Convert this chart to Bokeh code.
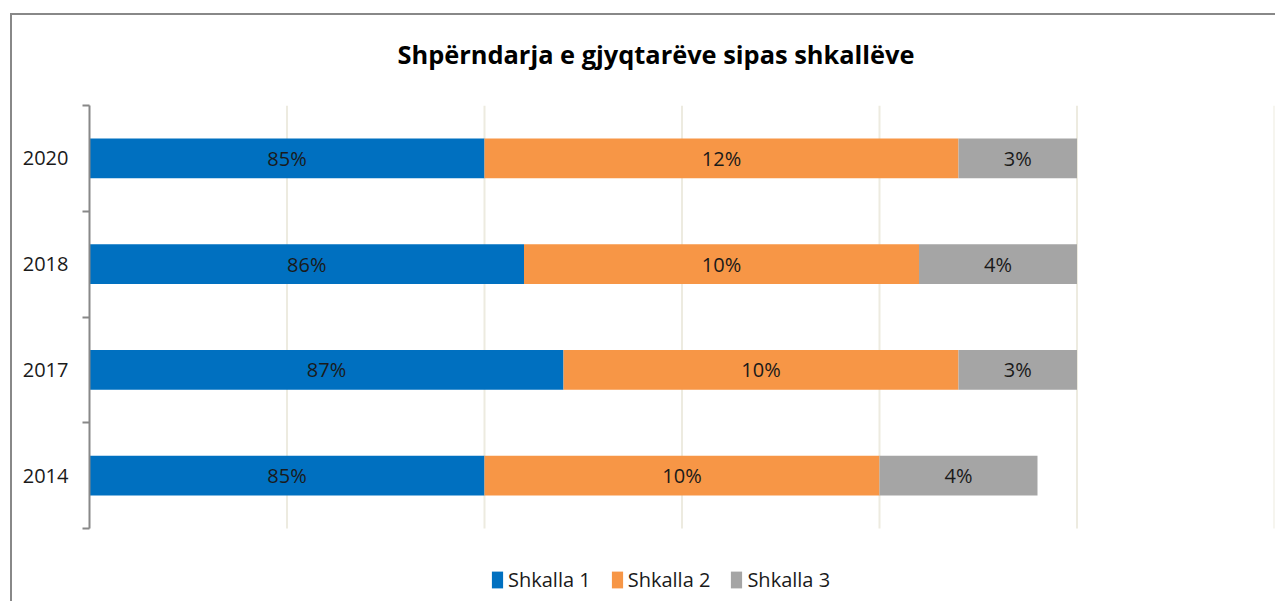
from bokeh.plotting import figure
from bokeh.models import ColumnDataSource, Range1d, FixedTicker, Legend, LegendItem
from bokeh.core.properties import value
from bokeh.embed import file_html
from bokeh.resources import INLINE

# ---- data ----
years = ["2014", "2017", "2018", "2020"]
series = ["Shkalla 1", "Shkalla 2", "Shkalla 3"]
shkalla1 = [85, 87, 86, 85]
shkalla2 = [10, 10, 10, 12]
shkalla3 = [4, 3, 4, 3]
colors = ["#0070C0", "#F79646", "#A5A5A5"]
x_min, x_max = 75, 105
grid_ticks = [80, 85, 90, 95, 100, 105]
title_text = "Shpërndarja e gjyqtarëve sipas shkallëve"

ypos = [i + 0.5 for i in range(len(years))]
boundaries = list(range(len(years) + 1))
keys = ["s1", "s2", "s3"]

src = ColumnDataSource(dict(y=ypos, s1=shkalla1, s2=shkalla2, s3=shkalla3))

FONT = "Open Sans"

# layout (pixels)
W, H = 1275, 601
top_b, left_b, right_b, bot_b = 105, 89, 1, 5
bars_px = 423                      # height of the category area
px_per_unit = bars_px / len(years)
extra_units = (H - top_b - bot_b - bars_px) / px_per_unit

p = figure(width=W, height=H,
           x_range=Range1d(x_min, x_max), y_range=Range1d(-extra_units, len(years)),
           output_backend="svg", toolbar_location=None, x_axis_location=None,
           min_border_left=left_b, min_border_right=right_b,
           min_border_top=top_b, min_border_bottom=bot_b)
p.outline_line_color = None
p.background_fill_color = None
p.border_fill_color = None
p.xgrid.visible = False
p.ygrid.visible = False

# chart border (left and top edges of the chart area), drawn behind the canvas
p.styles = {
    "background-color": "#ffffff",
    "background-image": "linear-gradient(#888888, #888888), linear-gradient(#888888, #888888)",
    "background-size": "2px 100%, 100% 2px",
    "background-position": "10px 13px, 10px 13px",
    "background-repeat": "no-repeat",
}

# gridlines limited to the category area
p.segment(x0=grid_ticks, y0=[0] * len(grid_ticks), x1=grid_ticks, y1=[len(years)] * len(grid_ticks),
          line_color="#EDEBE0", line_width=2)

rs = p.hbar_stack(keys, y="y", height=0.378, color=colors, line_color=None, source=src)

# data labels centred in the visible part of each segment
lx, ly, lt = [], [], []
vals = [shkalla1, shkalla2, shkalla3]
for i in range(len(years)):
    start = 0
    for s in range(len(series)):
        end = start + vals[s][i]
        lx.append((max(start, x_min) + end) / 2)
        ly.append(ypos[i])
        lt.append(f"{vals[s][i]}%")
        start = end
p.text(x=lx, y=ly, text=lt, text_align="center", text_baseline="middle",
       text_font=value(FONT), text_font_size="20px", text_color="#1a1a1a")

# y axis
ax = p.yaxis[0]
ax.bounds = (0, len(years))
ax.ticker = FixedTicker(ticks=ypos, minor_ticks=boundaries)
ax.major_label_overrides = {y: lab for y, lab in zip(ypos, years)}
ax.major_tick_out = 0
ax.major_tick_in = 0
ax.minor_tick_out = 7
ax.minor_tick_in = 0
ax.axis_line_color = "#888888"
ax.axis_line_width = 2
ax.minor_tick_line_color = "#888888"
ax.minor_tick_line_width = 2
ax.major_label_standoff = 14
ax.major_label_text_font = FONT
ax.major_label_text_font_size = "20px"
ax.major_label_text_color = "#1a1a1a"

# title
p.title.text = title_text
p.title.align = "left"
p.title.offset = 308
p.title.standoff = 69
p.title.text_font = FONT
p.title.text_font_size = "25.4px"
p.title.text_font_style = "bold"
p.title.text_color = "#000000"

# legend (inside the frame, below the category area)
legend = Legend(items=[LegendItem(label=s, renderers=[r]) for s, r in zip(series, rs)],
                orientation="horizontal", location=(401, 3),
                glyph_width=14, glyph_height=21, label_standoff=4, spacing=19,
                padding=0, margin=0, border_line_color=None, background_fill_alpha=0,
                label_text_font=FONT, label_text_font_size="20px", label_text_color="#1a1a1a")
p.add_layout(legend)

open("out.html", "w").write(file_html(p, INLINE))
